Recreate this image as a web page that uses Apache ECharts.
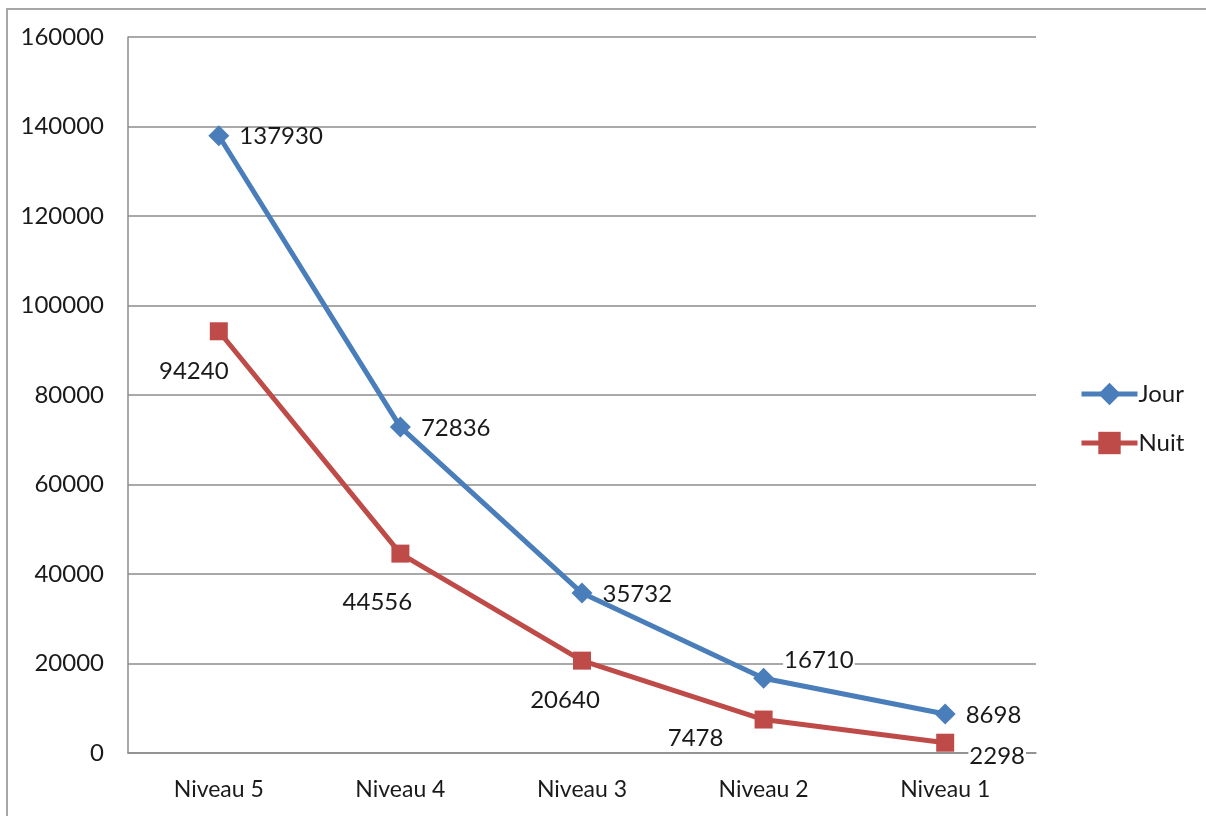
<!DOCTYPE html>
<html>
<head>
<meta charset="utf-8">
<script src="https://cdn.jsdelivr.net/npm/echarts@6/dist/echarts.min.js"></script>
<style>
  html, body { margin: 0; padding: 0; background: #fff; }
  #chart { width: 1206px; height: 816px; }
</style>
</head>
<body>
<div id="chart"></div>
<script>
// Categories and series values
const categories = ['Niveau 5', 'Niveau 4', 'Niveau 3', 'Niveau 2', 'Niveau 1'];
const jour = [137930, 72836, 35732, 16710, 8698];
const nuit = [94240, 44556, 20640, 7478, 2298];
const seriesNames = ['Jour', 'Nuit'];

// Per-point label offsets (placed around the markers)
const nuitLabelOffsets = [[-25, 40], [-23, 49], [-17, 40], [-68, 19], [52, 14]];
const jourLabelOffsets = [[0, 1], [0, 1], [0, 1], [0, -18], [0, 1]];
// Labels that sit on a gridline get a white box behind them
const jourLabelBoxed = [false, false, false, true, false];
const nuitLabelBoxed = [false, false, false, false, true];

const FONT = 'Lato, "Open Sans", sans-serif';
const labelBase = {
  show: true,
  fontFamily: FONT,
  fontSize: 24,
  color: '#1a1a1a',
  padding: [0, 1]
};

function labelledPoints(values, offsets, boxed) {
  return values.map((v, i) => ({
    value: v,
    label: {
      offset: offsets[i],
      backgroundColor: boxed[i] ? '#fff' : 'transparent'
    }
  }));
}

const chart = echarts.init(document.getElementById('chart'), null, { renderer: 'canvas' });

chart.setOption({
  animation: false,
  backgroundColor: '#fff',
  graphic: [{
    type: 'rect',
    shape: { x: 7, y: 9, width: 1400, height: 1000 },
    style: { fill: 'none', stroke: '#a6a6a6', lineWidth: 2 },
    silent: true
  }],
  grid: { left: 128, right: 170, top: 37, bottom: 63 },
  legend: {
    orient: 'vertical',
    left: 1074,
    top: 373,
    itemWidth: 56,
    itemHeight: 28,
    itemGap: 17,
    lineStyle: { width: 5 },
    textStyle: { fontFamily: FONT, fontSize: 24, color: '#1a1a1a', padding: [0, 0, 0, -4], lineHeight: 32 },
    data: seriesNames
  },
  xAxis: {
    type: 'category',
    data: categories,
    boundaryGap: true,
    axisLine: { lineStyle: { color: '#8c8c8c', width: 1.5 } },
    axisTick: { show: false },
    axisLabel: { fontFamily: FONT, fontSize: 23, color: '#1a1a1a', margin: 25 }
  },
  yAxis: {
    type: 'value',
    min: 0,
    max: 160000,
    interval: 20000,
    axisLine: { show: true, lineStyle: { color: '#8c8c8c', width: 1.5 } },
    axisTick: { show: false },
    splitLine: { lineStyle: { color: '#8c8c8c', width: 1.5 } },
    axisLabel: {
      fontFamily: FONT, fontSize: 24, color: '#1a1a1a', margin: 24,
      formatter: v => String(v)
    }
  },
  series: [
    {
      name: seriesNames[0],
      type: 'line',
      data: labelledPoints(jour, jourLabelOffsets, jourLabelBoxed),
      color: '#4a7ebb',
      symbol: 'diamond',
      symbolSize: 21,
      lineStyle: { width: 5, color: '#4a7ebb' },
      itemStyle: { color: '#4a7ebb' },
      label: Object.assign({}, labelBase, { position: 'right', distance: 9 }),
      z: 3
    },
    {
      name: seriesNames[1],
      type: 'line',
      data: labelledPoints(nuit, nuitLabelOffsets, nuitLabelBoxed),
      color: '#be4b48',
      symbol: 'rect',
      symbolSize: 18,
      lineStyle: { width: 5, color: '#be4b48' },
      itemStyle: { color: '#be4b48' },
      label: Object.assign({}, labelBase, { position: 'inside' }),
      z: 2
    }
  ]
});
</script>
</body>
</html>
